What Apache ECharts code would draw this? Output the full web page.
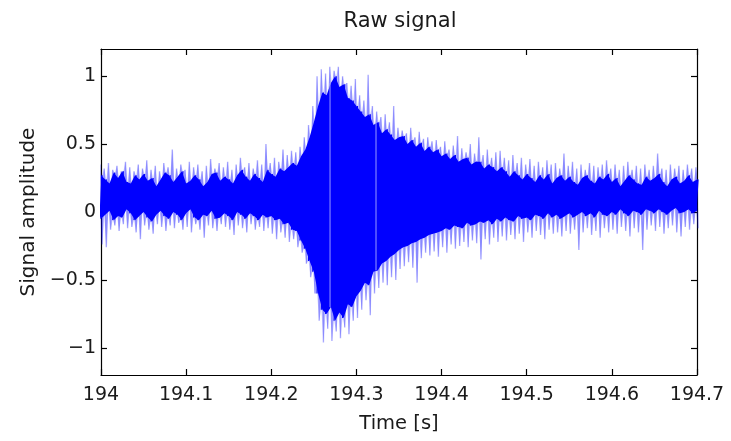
<!DOCTYPE html>
<html><head><meta charset="utf-8">
<script src="https://cdn.jsdelivr.net/npm/echarts@6/dist/echarts.min.js"></script>
<style>html,body{margin:0;padding:0;background:#fff}#c{width:731px;height:441px}</style>
</head><body><div id="c"></div>
<script>
// Time base of the envelope samples (s)
const tStart = 194.0;
const tStep = 0.005;

// Upper edge of the dense (dark) part of the signal, one value per 5 ms bin
const hiCore = [
0.27,0.24,0.21,0.29,0.25,0.30,0.22,0.21,0.27,0.24,
0.28,0.23,0.25,0.19,0.24,0.29,0.27,0.22,0.26,0.30,
0.21,0.23,0.27,0.24,0.19,0.22,0.28,0.29,0.23,0.26,
0.24,0.21,0.27,0.31,0.26,0.23,0.28,0.25,0.22,0.31,
0.28,0.26,0.32,0.30,0.33,0.36,0.34,0.41,0.46,0.55,
0.66,0.78,0.88,0.86,0.95,1.00,0.92,0.94,0.84,0.82,
0.78,0.74,0.70,0.72,0.64,0.66,0.58,0.61,0.57,0.53,
0.55,0.56,0.50,0.53,0.48,0.51,0.45,0.48,0.44,0.46,
0.41,0.43,0.39,0.42,0.37,0.39,0.40,0.35,0.37,0.37,
0.32,0.35,0.33,0.30,0.33,0.30,0.26,0.30,0.27,0.24,
0.28,0.25,0.22,0.27,0.24,0.28,0.21,0.25,0.27,0.23,
0.26,0.22,0.20,0.25,0.27,0.23,0.21,0.26,0.24,0.28,
0.22,0.25,0.19,0.23,0.27,0.24,0.21,0.20,0.26,0.23,
0.25,0.28,0.22,0.19,0.24,0.26,0.21,0.23,0.27,0.22,
0.24];

// Lower edge of the dense (dark) part
const loCore = [
-0.05,-0.02,0.01,-0.06,-0.03,-0.04,0.02,-0.01,-0.06,-0.03,
0.00,-0.04,-0.07,-0.02,0.01,-0.03,-0.05,0.00,-0.02,-0.06,
-0.01,0.02,-0.04,-0.06,-0.02,-0.03,0.01,-0.05,-0.04,-0.01,
-0.03,-0.06,0.00,-0.02,-0.05,-0.01,-0.03,-0.06,-0.02,-0.04,
-0.03,-0.06,-0.05,-0.09,-0.08,-0.13,-0.14,-0.21,-0.27,-0.36,
-0.44,-0.60,-0.72,-0.75,-0.70,-0.80,-0.74,-0.78,-0.68,-0.70,
-0.62,-0.58,-0.52,-0.54,-0.44,-0.43,-0.38,-0.36,-0.33,-0.31,
-0.28,-0.26,-0.25,-0.23,-0.22,-0.20,-0.19,-0.17,-0.16,-0.15,
-0.14,-0.12,-0.13,-0.10,-0.11,-0.12,-0.08,-0.10,-0.09,-0.07,
-0.08,-0.06,-0.09,-0.05,-0.07,-0.04,-0.06,-0.07,-0.03,-0.05,
-0.04,-0.06,-0.02,-0.03,-0.05,-0.01,-0.04,-0.02,-0.05,-0.03,
-0.01,-0.04,-0.02,0.00,-0.03,-0.01,-0.04,0.01,-0.02,-0.03,
0.00,-0.02,0.02,-0.01,-0.03,0.01,0.00,-0.02,0.02,0.01,
-0.01,0.02,0.00,-0.02,0.01,0.03,-0.01,0.00,0.02,-0.01,
0.01];

// Highest sparse spike in each bin
const hiPeak = [
0.35,0.32,0.36,0.31,0.34,0.30,0.37,0.33,0.30,0.35,
0.32,0.38,0.31,0.34,0.30,0.36,0.33,0.46,0.32,0.35,
0.31,0.37,0.33,0.35,0.30,0.34,0.39,0.32,0.36,0.33,
0.37,0.31,0.35,0.40,0.33,0.36,0.32,0.38,0.35,0.50,
0.36,0.40,0.37,0.46,0.42,0.45,0.44,0.48,0.55,0.64,
0.78,1.00,1.05,1.02,1.07,1.04,1.07,1.00,0.95,0.93,
0.98,0.86,0.82,1.01,0.78,0.74,0.70,0.72,0.66,0.78,
0.62,0.60,0.58,0.62,0.55,0.59,0.54,0.55,0.52,0.53,
0.48,0.52,0.46,0.49,0.56,0.47,0.44,0.50,0.43,0.55,
0.42,0.46,0.40,0.44,0.45,0.40,0.38,0.42,0.36,0.40,
0.35,0.39,0.34,0.37,0.33,0.38,0.35,0.36,0.32,0.43,
0.34,0.37,0.32,0.35,0.31,0.36,0.34,0.33,0.35,0.38,
0.32,0.35,0.31,0.34,0.37,0.31,0.34,0.32,0.35,0.31,
0.34,0.43,0.32,0.31,0.35,0.32,0.34,0.31,0.35,0.32,
0.33];

// Lowest sparse spike in each bin
const loPeak = [
-0.24,-0.26,-0.13,-0.10,-0.14,-0.09,-0.12,-0.11,-0.15,-0.20,
-0.10,-0.13,-0.16,-0.09,-0.11,-0.14,-0.10,-0.12,-0.08,-0.13,
-0.11,-0.15,-0.09,-0.13,-0.19,-0.10,-0.12,-0.14,-0.09,-0.11,
-0.13,-0.17,-0.10,-0.12,-0.15,-0.09,-0.13,-0.11,-0.14,-0.12,
-0.16,-0.20,-0.15,-0.19,-0.22,-0.20,-0.26,-0.30,-0.38,-0.48,
-0.60,-0.80,-0.96,-0.86,-0.95,-0.88,-0.93,-0.85,-0.90,-0.80,
-0.78,-0.72,-0.65,-0.76,-0.60,-0.56,-0.52,-0.54,-0.48,-0.50,
-0.42,-0.40,-0.37,-0.41,-0.52,-0.34,-0.30,-0.32,-0.29,-0.33,
-0.26,-0.30,-0.24,-0.27,-0.25,-0.22,-0.26,-0.21,-0.23,-0.35,
-0.20,-0.24,-0.19,-0.22,-0.18,-0.21,-0.17,-0.20,-0.16,-0.22,
-0.15,-0.19,-0.14,-0.17,-0.20,-0.13,-0.16,-0.15,-0.18,-0.14,
-0.16,-0.13,-0.28,-0.15,-0.12,-0.17,-0.14,-0.19,-0.12,-0.15,
-0.13,-0.16,-0.11,-0.14,-0.18,-0.12,-0.15,-0.28,-0.13,-0.10,
-0.14,-0.11,-0.16,-0.12,-0.10,-0.15,-0.18,-0.11,-0.13,-0.09,
-0.12];

// Instants where the trace shows a thin light gap through the dense part
const dropouts = [194.269, 194.323];

// Axis ticks
const xTicks = [194, 194.1, 194.2, 194.3, 194.4, 194.5, 194.6, 194.7];
const yTicks = [-1, -0.5, 0, 0.5, 1];

const times = hiCore.map((_, i) => +(tStart + i * tStep).toFixed(4));
const q = tStep / 4;
const peakLine = [];
times.forEach((t, i) => { peakLine.push([t - q, hiPeak[i]]); peakLine.push([t + q, loPeak[i]]); });
const coreLine = [];
times.forEach((t, i) => { coreLine.push([t + q, hiCore[i]]); coreLine.push([t - q, loCore[i]]); });
const dropData = dropouts.map(t => {
  const i = Math.round((t - tStart) / tStep);
  return [t, loCore[i], hiCore[i]];
});

const FONT = 'DejaVu Sans';
const txt = { fontFamily: FONT, fontSize: 19, color: '#1a1a1a' };
const fmtNum = v => (Math.round(v * 10) / 10).toString().replace('-', '\u2212');
const axisCommon = {
  axisLine: { show: true, onZero: false, lineStyle: { color: '#000', width: 1.2 } },
  splitLine: { show: false }
};
const tickStyle = { color: '#000', width: 1.2 };

const chart = echarts.init(document.getElementById('c'), null, { renderer: 'canvas' });
chart.setOption({
  animation: false,
  backgroundColor: '#fff',
  title: {
    text: 'Raw signal', left: 395, top: 6, textAlign: 'center',
    textStyle: { fontFamily: FONT, fontSize: 21, fontWeight: 'normal', color: '#1a1a1a' }
  },
  grid: { left: 101, right: 34, top: 49, bottom: 66, containLabel: false },
  xAxis: [{
    type: 'value', min: 194, max: 194.7, position: 'bottom', ...axisCommon,
    name: 'Time [s]', nameLocation: 'middle', nameGap: 39, nameTextStyle: { ...txt, fontSize: 19.5 },
    axisTick: { show: true, inside: true, length: 6, customValues: xTicks, lineStyle: tickStyle },
    axisLabel: { show: true, customValues: xTicks, formatter: fmtNum, margin: 11, ...txt }
  }, {
    type: 'value', min: 194, max: 194.7, position: 'top', ...axisCommon,
    axisTick: { show: true, inside: true, length: 6, customValues: xTicks, lineStyle: tickStyle },
    axisLabel: { show: false }
  }],
  yAxis: [{
    type: 'value', min: -1.2, max: 1.2, position: 'left', ...axisCommon,
    name: 'Signal amplitude', nameLocation: 'middle', nameGap: 58, nameTextStyle: { ...txt, fontSize: 20 },
    axisTick: { show: true, inside: true, length: 6, customValues: yTicks, lineStyle: tickStyle },
    axisLabel: { show: true, customValues: yTicks, formatter: fmtNum, margin: 5, ...txt }
  }, {
    type: 'value', min: -1.2, max: 1.2, position: 'right', ...axisCommon,
    axisTick: { show: true, inside: true, length: 6, customValues: yTicks, lineStyle: tickStyle },
    axisLabel: { show: false }
  }],
  series: [
    {
      name: 'fuzz', type: 'custom', data: [0], z: 1, clip: true,
      renderItem: (params, api) => {
        const top = [], bot = [];
        times.forEach((t, i) => {
          top.push(api.coord([t - q, hiPeak[i]]));
          top.push(api.coord([t + q, hiCore[i]]));
          bot.push(api.coord([t - q, loCore[i]]));
          bot.push(api.coord([t + q, loPeak[i]]));
        });
        return { type: 'polygon', shape: { points: top.concat(bot.reverse()) },
          style: { fill: 'rgba(0,0,255,0.2)' } };
      }
    },
    {
      name: 'spikes', type: 'line', data: peakLine, showSymbol: false, symbol: 'none',
      lineStyle: { color: 'rgba(0,0,255,0.32)', width: 1.4 }, z: 2, clip: true
    },
    {
      name: 'core', type: 'custom', data: [0], z: 3, clip: true,
      renderItem: (params, api) => {
        const top = times.map((t, i) => api.coord([t, hiCore[i]]));
        const bot = times.map((t, i) => api.coord([t, loCore[i]])).reverse();
        return { type: 'polygon', shape: { points: top.concat(bot) }, style: { fill: '#0000ff' } };
      }
    },
    {
      name: 'coreTexture', type: 'line', data: coreLine, showSymbol: false, symbol: 'none',
      lineStyle: { color: '#0000ff', width: 1.2 }, z: 3, clip: true
    },
    {
      name: 'gaps', type: 'custom', data: dropData, z: 4, clip: true,
      renderItem: (params, api) => {
        const a = api.coord([api.value(0), api.value(1)]);
        const b = api.coord([api.value(0), api.value(2)]);
        return { type: 'line', shape: { x1: a[0], y1: a[1], x2: b[0], y2: b[1] },
          style: { stroke: 'rgba(170,170,255,0.9)', lineWidth: 1 } };
      }
    }
  ]
});
</script>
</body></html>
